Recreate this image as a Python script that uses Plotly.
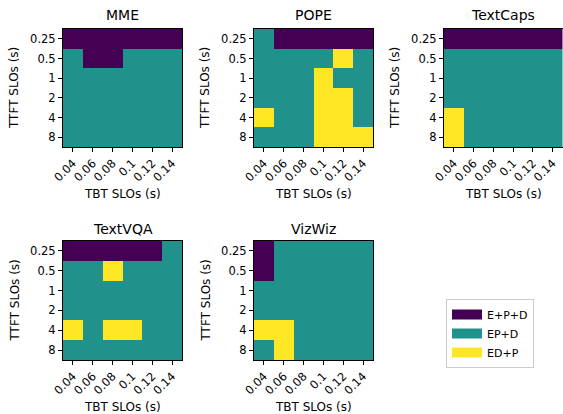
import plotly.graph_objects as go

# ---- data ----
tbt_slos = ["0.04", "0.06", "0.08", "0.1", "0.12", "0.14"]
ttft_slos = ["0.25", "0.5", "1", "2", "4", "8"]
strategies = ["E+P+D", "EP+D", "ED+P"]  # codes 0, 1, 2
strategy_colors = ["#440154", "#21918c", "#fde725"]

mme = [
    [0, 0, 0, 0, 0, 0],
    [1, 0, 0, 1, 1, 1],
    [1, 1, 1, 1, 1, 1],
    [1, 1, 1, 1, 1, 1],
    [1, 1, 1, 1, 1, 1],
    [1, 1, 1, 1, 1, 1],
]
pope = [
    [1, 0, 0, 0, 0, 0],
    [1, 1, 1, 1, 2, 1],
    [1, 1, 1, 2, 1, 1],
    [1, 1, 1, 2, 2, 1],
    [2, 1, 1, 2, 2, 1],
    [1, 1, 1, 2, 2, 2],
]
textcaps = [
    [0, 0, 0, 0, 0, 0],
    [1, 1, 1, 1, 1, 1],
    [1, 1, 1, 1, 1, 1],
    [1, 1, 1, 1, 1, 1],
    [2, 1, 1, 1, 1, 1],
    [2, 1, 1, 1, 1, 1],
]
textvqa = [
    [0, 0, 0, 0, 0, 1],
    [1, 1, 2, 1, 1, 1],
    [1, 1, 1, 1, 1, 1],
    [1, 1, 1, 1, 1, 1],
    [2, 1, 2, 2, 1, 1],
    [1, 1, 1, 1, 1, 1],
]
vizwiz = [
    [0, 1, 1, 1, 1, 1],
    [0, 1, 1, 1, 1, 1],
    [1, 1, 1, 1, 1, 1],
    [1, 1, 1, 1, 1, 1],
    [2, 2, 1, 1, 1, 1],
    [1, 2, 1, 1, 1, 1],
]
panel_titles = ["MME", "POPE", "TextCaps", "TextVQA", "VizWiz"]
panel_data = [mme, pope, textcaps, textvqa, vizwiz]

# ---- layout geometry (pixels) ----
W, H = 563, 414
col_px = [(63, 182), (254, 373), (444, 562.5)]
row_px = [(29, 147), (241, 360)]
ytitle_x = [14, 205, 395]
title_y = [15, 229]
xtitle_y = [194, 407]

FONT = "DejaVu Sans"

colorscale = [
    [0.0, strategy_colors[0]], [1 / 3, strategy_colors[0]],
    [1 / 3, strategy_colors[1]], [2 / 3, strategy_colors[1]],
    [2 / 3, strategy_colors[2]], [1.0, strategy_colors[2]],
]

fig = go.Figure()
annotations = []

for i, (name, z) in enumerate(zip(panel_titles, panel_data)):
    r, c = divmod(i, 3)
    ax = "" if i == 0 else str(i + 1)
    fig.add_trace(go.Heatmap(
        z=z, x=tbt_slos, y=ttft_slos,
        colorscale=colorscale, zmin=0, zmax=2, showscale=False,
        xaxis="x" + ax, yaxis="y" + ax, hoverinfo="skip",
    ))
    x0, x1 = col_px[c]
    y0, y1 = row_px[r]
    xd = [x0 / W, x1 / W]
    yd = [1 - y1 / H, 1 - y0 / H]
    common = dict(
        showline=True, mirror=True, linecolor="black", linewidth=1,
        ticks="outside", ticklen=4, tickwidth=1, tickcolor="black",
        tickfont=dict(family=FONT, size=11.5, color="black"),
        showgrid=False, zeroline=False, type="category", automargin=False,
    )
    fig.update_layout(**{
        "xaxis" + ax: dict(domain=xd, anchor="y" + ax, tickangle=-45, **common),
        "yaxis" + ax: dict(domain=yd, anchor="x" + ax, autorange="reversed", **common),
    })
    cx = (x0 + x1) / 2 / W
    cy = 1 - (y0 + y1) / 2 / H
    annotations.append(dict(text=name, x=cx, y=1 - title_y[r] / H, xref="paper", yref="paper",
                            showarrow=False, xanchor="center", yanchor="middle",
                            font=dict(family=FONT, size=14, color="black")))
    annotations.append(dict(text="TBT SLOs (s)", x=cx, y=1 - xtitle_y[r] / H, xref="paper", yref="paper",
                            showarrow=False, xanchor="center", yanchor="middle",
                            font=dict(family=FONT, size=12, color="black")))
    annotations.append(dict(text="TTFT SLOs (s)", x=ytitle_x[c] / W, y=cy, xref="paper", yref="paper",
                            showarrow=False, xanchor="center", yanchor="middle", textangle=-90,
                            font=dict(family=FONT, size=12, color="black")))

# legend entries
for name, col in zip(strategies, strategy_colors):
    fig.add_trace(go.Scatter(x=[None], y=[None], mode="lines", name=name,
                             line=dict(color=col, width=10), xaxis="x", yaxis="y"))

fig.update_layout(
    width=W, height=H,
    margin=dict(l=0, r=0, t=0, b=0, autoexpand=False),
    paper_bgcolor="white", plot_bgcolor="white",
    annotations=annotations,
    showlegend=True,
    legend=dict(x=446 / W, y=1 - 299 / H, xanchor="left", yanchor="top",
                bordercolor="#cccccc", borderwidth=1, bgcolor="white",
                font=dict(family=FONT, size=11, color="black"),
                itemwidth=30, tracegroupgap=0),
    font=dict(family=FONT),
)

fig.write_html("out.html", config={"displayModeBar": False},
               post_script="document.body.style.margin='0';document.body.style.overflow='hidden';")
